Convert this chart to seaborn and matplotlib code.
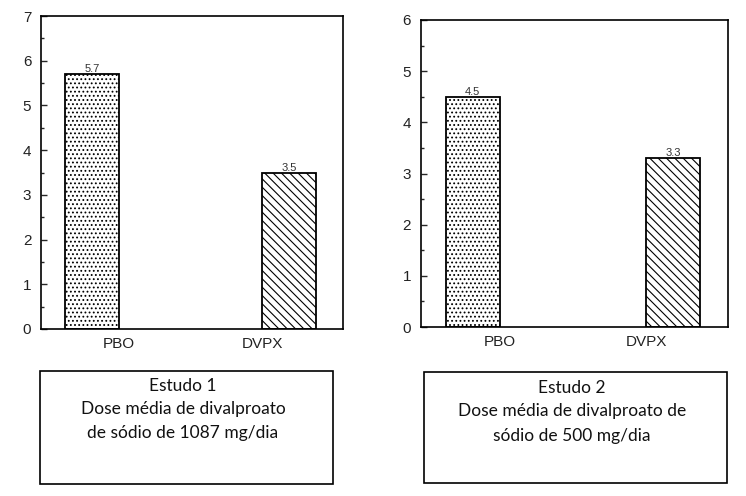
import matplotlib
matplotlib.use("Agg")
import matplotlib.pyplot as plt
import seaborn as sns
from matplotlib.patches import Rectangle
from matplotlib.ticker import MultipleLocator

categories = ["PBO", "DVPX"]
study1_values = [5.7, 3.5]
study2_values = [4.5, 3.3]
study1_ymax = 7
study2_ymax = 6
box1_lines = ["Estudo 1", "Dose média de divalproato", "de sódio de 1087 mg/dia"]
box2_lines = ["Estudo 2", "Dose média de divalproato de", "sódio de 500 mg/dia"]

sns.set_style("white")
plt.rcParams['font.family'] = ['Liberation Sans', 'DejaVu Sans']
plt.rcParams['hatch.linewidth'] = 0.8

fig = plt.figure(figsize=(7.46, 4.96), dpi=100)
ax1 = fig.add_axes([0.055, 0.3367, 0.4048, 0.631])
ax2 = fig.add_axes([0.5643, 0.3407, 0.4115, 0.619])

hatches = {"PBO": "....", "DVPX": "\\\\\\\\"}

def draw(ax, values, ymax):
    sns.barplot(x=categories, y=values, hue=categories, hue_order=categories,
                order=categories, dodge=True, palette=["white", "white"],
                edgecolor="black", linewidth=1.3, width=0.74, legend=False, ax=ax)
    for p in ax.patches:
        cat = "PBO" if p.get_x() < 0.5 else "DVPX"
        p.set_hatch(hatches[cat])
    for c in ax.containers:
        ax.bar_label(c, fmt="%.1f", fontsize=8, padding=0, color="#333333")
    ax.set_ylim(0, ymax)
    ax.set_xlim(-0.54, 1.56)
    ax.yaxis.set_major_locator(MultipleLocator(1))
    ax.yaxis.set_minor_locator(MultipleLocator(0.5))
    ax.tick_params(axis="y", which="major", direction="in", length=4, width=1,
                   left=True, labelsize=11, pad=7, labelcolor="#222222")
    ax.tick_params(axis="y", which="minor", direction="in", length=2, width=1, left=True)
    ax.tick_params(axis="x", length=0, pad=6, labelsize=11, labelcolor="#222222")
    for s in ax.spines.values():
        s.set_visible(True)
        s.set_color("black")
        s.set_linewidth(1.2)
    ax.set_xlabel("")
    ax.set_ylabel("")

draw(ax1, study1_values, study1_ymax)
draw(ax2, study2_values, study2_ymax)

def box(x0, y0, w, h, lines, cx, ys):
    fig.add_artist(Rectangle((x0, y0), w, h, transform=fig.transFigure,
                             fill=False, edgecolor="black", linewidth=1.2))
    for line, y in zip(lines, ys):
        fig.text(cx, y, line, ha="center", va="center", fontsize=12.5,
                 family=["Lato", "DejaVu Sans"], color="#111111")

box(0.0536, 0.0242, 0.3928, 0.2278, box1_lines, 183/746,
    [1 - 386/496, 1 - 409/496, 1 - 433/496])
box(0.5684, 0.0262, 0.4062, 0.2238, box2_lines, 572/746,
    [1 - 388/496, 1 - 411/496, 1 - 436/496])

fig.savefig("out.png", dpi=100, facecolor="white")
